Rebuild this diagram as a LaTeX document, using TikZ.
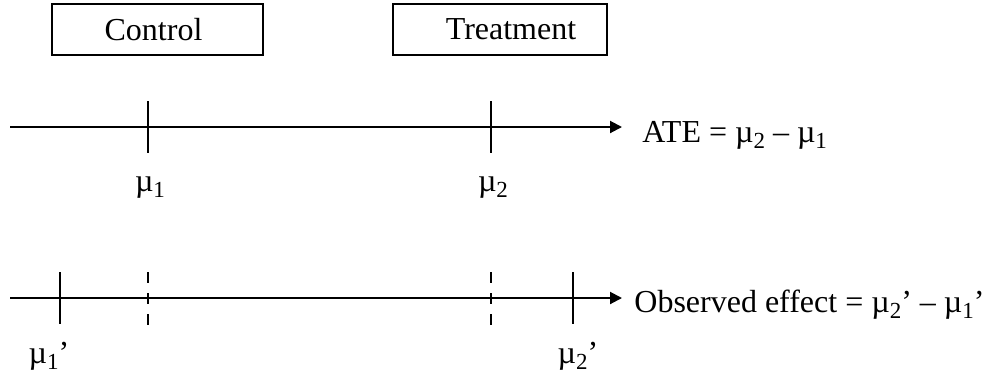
\documentclass[tikz,border=0pt]{standalone}
\usepackage{fontspec}
\setmainfont{Liberation Serif}
\usetikzlibrary{arrows.meta}
% subscript index set small and lowered
\newcommand{\lowidx}[1]{\raisebox{-0.4ex}{\fontsize{11.5}{12}\selectfont #1}}
\newcommand{\mug}{\char"00B5}
\begin{document}
\begin{tikzpicture}[x=0.5pt,y=-0.5pt,
  font=\fontsize{16}{19}\selectfont,
  groupbox/.style={draw, line width=1pt, minimum height=25.5pt, inner sep=0pt},
  axisline/.style={line width=1pt, -{Triangle[length=6pt,width=6pt]}},
  meantick/.style={line width=0.7pt},
  shifttick/.style={line width=0.7pt, dash pattern=on 5.5pt off 5pt},
  meanlabel/.style={inner sep=0pt},
  effectlabel/.style={anchor=west, inner sep=0pt}]
\useasboundingbox (0,0) rectangle (988,375);

% group boxes
\node[groupbox, minimum width=105.5pt] (control) at (157.5,29.5) {\hspace*{-4pt}Control};
\node[groupbox, minimum width=107pt] (treat) at (500,29.5) {\hspace*{11pt}Treatment};

% true means axis
\coordinate (a1s) at (10,127);
\coordinate (a1e) at (622,127);
\draw[axisline] (a1s) -- (a1e);
\coordinate (t1top) at (148,101);  \coordinate (t1bot) at (148,153);
\coordinate (t2top) at (491,101);  \coordinate (t2bot) at (491,153);
\draw[meantick] (t1top) -- (t1bot);
\draw[meantick] (t2top) -- (t2bot);
\node[meanlabel] (m1) at (150,188) {\mug\lowidx{1}};
\node[meanlabel] (m2) at (493,188) {\mug\lowidx{2}};
\node[effectlabel] (ate) at (642,135) {ATE = \mug\lowidx{2} – \mug\lowidx{1}};

% observed means axis
\coordinate (a2s) at (10,298);
\coordinate (a2e) at (622,298);
\draw[axisline] (a2s) -- (a2e);
\coordinate (o1top) at (60,272);   \coordinate (o1bot) at (60,324);
\coordinate (o2top) at (573,272);  \coordinate (o2bot) at (573,324);
\coordinate (d1top) at (148,272);  \coordinate (d1bot) at (148,325);
\coordinate (d2top) at (491,272);  \coordinate (d2bot) at (491,325);
\draw[meantick] (o1top) -- (o1bot);
\draw[meantick] (o2top) -- (o2bot);
\draw[shifttick] (d1top) -- (d1bot);
\draw[shifttick] (d2top) -- (d2bot);
\node[meanlabel] (m1o) at (49,356) {\mug\lowidx{1}’};
\node[meanlabel] (m2o) at (578,356) {\mug\lowidx{2}’};
\node[effectlabel] (obs) at (634,305) {Observed effect = \mug\lowidx{2}’ – \mug\lowidx{1}’};
\end{tikzpicture}
\end{document}
